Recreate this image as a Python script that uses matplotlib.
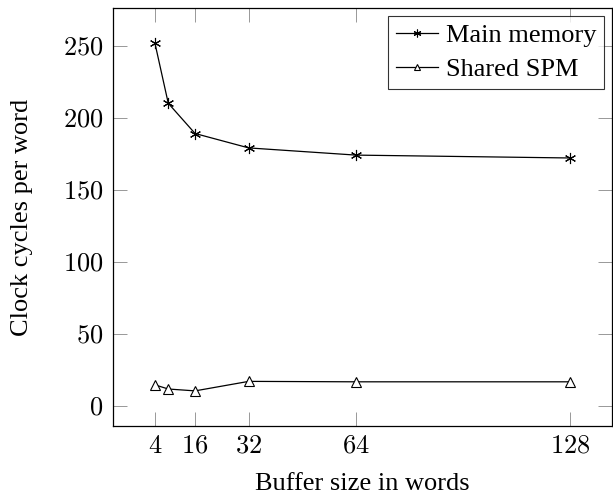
import matplotlib
matplotlib.use("Agg")
import matplotlib.pyplot as plt
from matplotlib.ticker import FixedLocator, FuncFormatter

buffer_sizes = [4, 8, 16, 32, 64, 128]
main_memory = [252, 210, 189, 179, 174, 172]
shared_spm = [14.4, 11.5, 10.2, 16.8, 16.5, 16.5]
x_ticks = [4, 16, 32, 64, 128]
y_ticks = [0, 50, 100, 150, 200, 250]

plt.rcParams['mathtext.fontset'] = 'cm'
plt.rcParams['font.family'] = ['Liberation Serif', 'DejaVu Serif']

fig = plt.figure(figsize=(6.13, 4.97), dpi=100)
ax = fig.add_axes([113.3 / 613, 1 - 426 / 497, (612 - 113.3) / 613, (426 - 8) / 497])

ax.plot(buffer_sizes, main_memory, color='black', lw=0.9,
        marker=(6, 2, 0), markersize=8, markeredgewidth=0.8, label='Main memory')
ax.plot(buffer_sizes, shared_spm, color='black', lw=0.9,
        marker='^', markersize=7, markerfacecolor='white', markeredgecolor='black',
        markeredgewidth=0.8, label='Shared SPM')

ax.set_xlim(-8.4, 140.4)
ax.set_ylim(-14.2, 276.2)
ax.xaxis.set_major_locator(FixedLocator(x_ticks))
ax.yaxis.set_major_locator(FixedLocator(y_ticks))
fmt = FuncFormatter(lambda v, p: r'$%d$' % v)
ax.xaxis.set_major_formatter(fmt)
ax.yaxis.set_major_formatter(fmt)
ax.tick_params(direction='in', length=10, width=0.6, color='#888888',
               top=True, right=True, labelsize=19, pad=7)
for s in ax.spines.values():
    s.set_linewidth(0.9)

ax.set_xlabel('Buffer size in words', fontsize=19, labelpad=11)
ax.set_ylabel('Clock cycles per word', fontsize=19, labelpad=22)

leg = ax.legend(loc='upper right', fontsize=19, frameon=True, fancybox=False,
                edgecolor='black', handlelength=1.6, handletextpad=0.3,
                borderpad=0.3, labelspacing=0.4, borderaxespad=0.3,
                markerscale=0.7)
leg.get_frame().set_linewidth(0.8)

fig.savefig('out.png', dpi=100)
